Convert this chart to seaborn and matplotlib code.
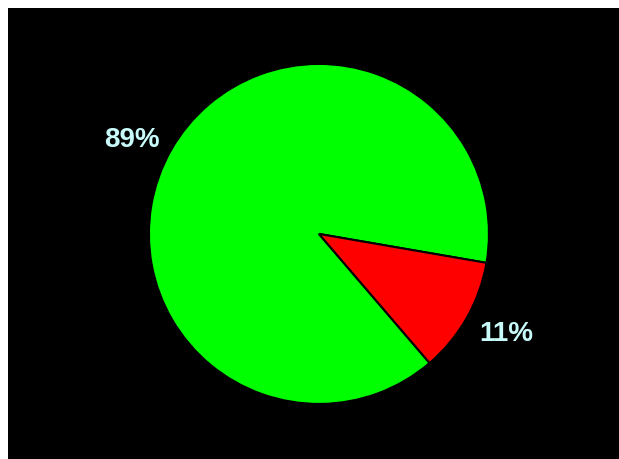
import matplotlib
matplotlib.use("Agg")
import matplotlib.pyplot as plt
import numpy as np
import seaborn as sns

sns.set_theme(style="white")
plt.rcParams['font.family'] = ['Liberation Sans', 'DejaVu Sans']

labels = ["89%", "11%"]
values = [89, 11]
colors = ["#00ff00", "#ff0000"]

fig = plt.figure(figsize=(6.19, 4.59), dpi=100)
fig.patch.set_facecolor("white")
ax = fig.add_axes([8 / 619, 0, 611 / 619, 451 / 459])

wedges, texts = ax.pie(
    values, labels=labels, colors=colors, startangle=-9.8,
    counterclock=True, labeldistance=1.24, frame=True,
    wedgeprops=dict(edgecolor="black", linewidth=1.5),
    textprops=dict(color="#c8fafa", fontsize=20, fontweight="bold"),
)
# labels sit slightly rotated (about 2 degrees) from wedge mid-angles
rot = np.deg2rad(2.2)
for t in texts:
    x, y = t.get_position()
    t.set_position((x * np.cos(rot) - y * np.sin(rot), x * np.sin(rot) + y * np.cos(rot)))
    t.set_horizontalalignment("center")
    t.set_verticalalignment("center_baseline")

ax.set_facecolor("black")
ax.set_aspect("auto")
ax.set_xlim(-1.829, 1.765)
ax.set_ylim(-1.324, 1.329)
ax.set_xticks([])
ax.set_yticks([])
for s in ax.spines.values():
    s.set_visible(False)

fig.savefig("out.png", dpi=100, facecolor=fig.get_facecolor())
